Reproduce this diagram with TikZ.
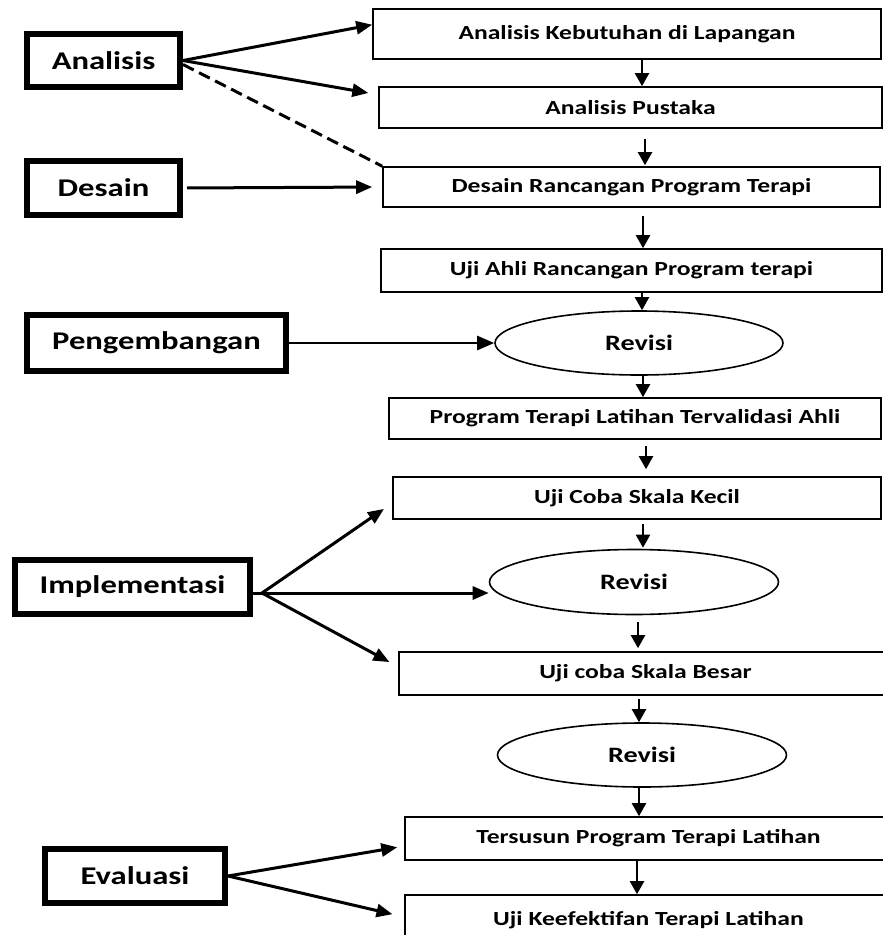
\documentclass[tikz,border=0pt]{standalone}
\usepackage{fontspec}
\setmainfont{Carlito}[FakeStretch=1.28]
\usetikzlibrary{arrows.meta,calc,shapes.geometric}
\begin{document}
\begin{tikzpicture}[x=1pt,y=-1pt,
  lab/.style={draw,line width=6pt,inner sep=0pt,font=\fontsize{25.5}{30}\selectfont\bfseries},
  stepbox/.style={draw,line width=1.6pt,inner sep=0pt,font=\fontsize{20}{24}\selectfont\bfseries},
  rev/.style={ellipse,draw,line width=1.6pt,inner sep=0pt,font=\fontsize{22}{26}\selectfont\bfseries},
  varr/.style={-{Triangle[length=13pt,width=14pt]},line width=2.2pt},
  barr/.style={-{Triangle[length=16pt,width=13pt]},line width=3pt},
]
\useasboundingbox (0,0) rectangle (883,935);

% left phase labels
\node[lab,minimum width=153pt,minimum height=53pt] (LA) at (103.5,60.5) {Analisis};
\node[lab,minimum width=153pt,minimum height=54pt] (LD) at (103.5,188) {Desain};
\node[lab,minimum width=259pt,minimum height=56pt] (LP) at (156.5,343) {Pengembangan};
\node[lab,minimum width=235pt,minimum height=54pt] (LI) at (132.5,587) {Implementasi};
\node[lab,minimum width=180pt,minimum height=54pt] (LE) at (135,876) {Evaluasi};

% right column
\node[stepbox,minimum width=508pt,minimum height=50pt] (B1) at (627,34) {Analisis Kebutuhan di Lapangan};
\node[stepbox,minimum width=503pt,minimum height=41pt] (B2) at (630.5,107.5) {Analisis Pustaka};
\node[stepbox,minimum width=497pt,minimum height=40pt] (B3) at (631.5,187) {Desain Rancangan Program Terapi};
\node[stepbox,minimum width=501pt,minimum height=43pt] (B4) at (631.5,270.5) {Uji Ahli Rancangan Program terapi};
\node[rev,minimum width=288pt,minimum height=64pt] (E1) at (639,343) {Revisi};
\node[stepbox,minimum width=492pt,minimum height=41pt] (B5) at (635,418.5) {Program Terapi Latihan Tervalidasi Ahli};
\node[stepbox,minimum width=488pt,minimum height=42pt] (B6) at (637,498) {Uji Coba Skala Kecil};
\node[rev,minimum width=289pt,minimum height=65pt] (E2) at (634,582) {Revisi};
\node[stepbox,minimum width=493pt,minimum height=43pt] (B7) at (645.5,673.5) {Uji coba Skala Besar};
\node[rev,minimum width=289pt,minimum height=64pt] (E3) at (642,755) {Revisi};
\node[stepbox,minimum width=487pt,minimum height=43pt] (B8) at (648.5,838.5) {Tersusun Program Terapi Latihan};
\node[stepbox,minimum width=487pt,minimum height=50pt] (B9) at (648.5,920) {Uji Keefektifan Terapi Latihan};

% vertical flow arrows
\draw[varr] (B1.south -| 642,0) -- (B2.north -| 642,0);
\draw[varr,shorten <=10pt,shorten >=1pt] (B2.south -| 645,0) -- (B3.north -| 645,0);
\draw[varr,shorten <=8pt] (B3.south -| 643,0) -- (B4.north -| 643,0);
\draw[varr] (B4.south -| 642,0) -- (E1.north -| 642,0);
\draw[varr] (E1.south -| 643,0) -- (B5.north -| 643,0);
\draw[varr,shorten <=6pt,shorten >=7pt] (B5.south -| 646,0) -- (B6.north -| 646,0);
\draw[varr,shorten <=4pt,shorten >=1pt] (B6.south -| 643,0) -- (E2.north -| 643,0);
\draw[varr,shorten <=7pt,shorten >=3pt] (E2.south -| 638,0) -- (B7.north -| 638,0);
\draw[varr,shorten <=3pt] (B7.south -| 639,0) -- (E3.north -| 639,0);
\draw[varr] (E3.south -| 639,0) -- (B8.north -| 639,0);
\draw[varr] (B8.south -| 637,0) -- (B9.north -| 637,0);

% phase arrows
\draw[barr] (LA.east) -- ($(B1.north west)!0.32!(B1.south west)$);
\draw[barr,shorten >=10pt] (LA.east) -- ($(B2.north west)!0.2!(B2.south west)$);
\draw[line width=3pt,dash pattern=on 12pt off 6pt] ($(LA.east)+(0,4)$) -- (B3.north west);
\draw[barr,shorten <=4pt,shorten >=10pt] (LD.east) -- (B3.west);
\draw[-{Triangle[length=17pt,width=14pt]},line width=2.5pt] (LP.east) -- (E1.west);

\coordinate (LIo) at ($(LI.east)+(9,6)$);
\draw[line width=3pt] (LI.east |- LIo) -- (LIo);
\draw[barr,shorten >=10pt] (LIo) -- ($(B6.north west)!0.62!(B6.south west)$);
\draw[barr] (LIo) -- (E2.west |- LIo);
\draw[barr,shorten >=10pt] (LIo) -- ($(B7.north west)!0.35!(B7.south west)$);

\draw[barr,shorten >=7pt] (LE.east) -- ($(B8.north west)!0.67!(B8.south west)$);
\draw[barr,shorten >=12pt] (LE.east) -- ($(B9.north west)!0.44!(B9.south west)$);
\end{tikzpicture}
\end{document}
